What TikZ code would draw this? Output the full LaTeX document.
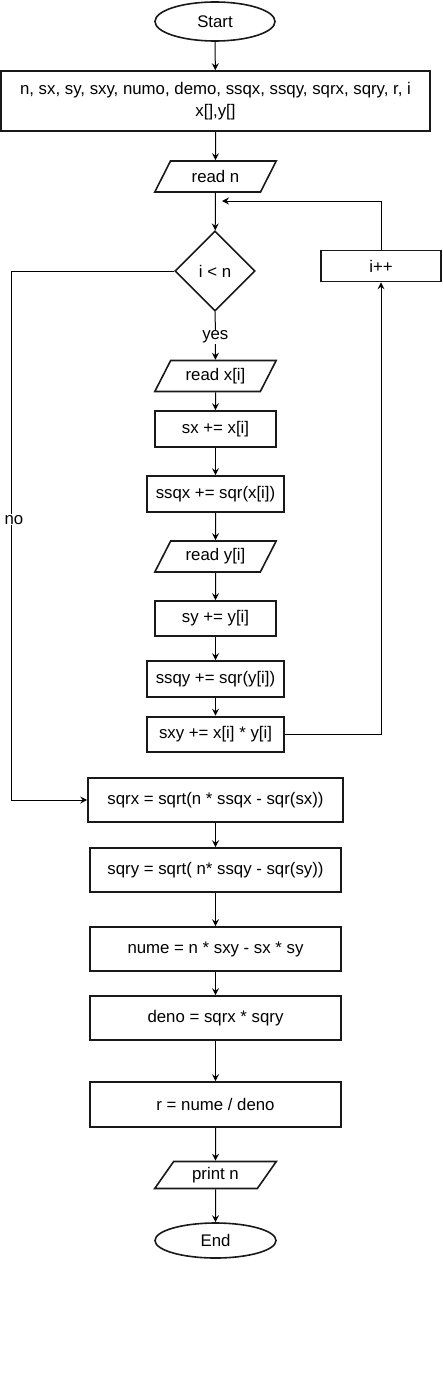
\documentclass[tikz,border=0pt]{standalone}
\usepackage{fontspec}
\setmainfont{Liberation Sans}
\usetikzlibrary{shapes.geometric,arrows.meta}
\begin{document}
\begin{tikzpicture}[x=1pt,y=-1pt,
  every node/.style={font=\fontsize{16.8}{22}\selectfont, inner sep=0pt, align=center},
  box/.style={draw=black!90, line width=1.6pt, rectangle, fill=white},
  term/.style={draw=black!90, line width=1.6pt, ellipse, fill=white},
  io/.style={draw=black!90, line width=1.6pt, trapezium, trapezium left angle=56, trapezium right angle=124, trapezium stretches=true, minimum width=122, fill=white},
  decision/.style={draw=black!90, line width=1.6pt, diamond, minimum width=80, minimum height=80, aspect=1, fill=white},
  conn/.style={draw=black, line width=1pt, -{Stealth[length=7pt,width=7pt,inset=2.5pt]}},
  lbl/.style={fill=white, inner sep=1pt}
]
\useasboundingbox (0,0) rectangle (442,1389);

\node[term, minimum width=120, minimum height=39] (start) at (215,21.5) {Start};
\node[box, minimum width=429, minimum height=60] (decl) at (215.5,101) {n, sx, sy, sxy, numo, demo, ssqx, ssqy, sqrx, sqry, r, i\\x[],y[]};
\node[io, minimum height=31] (readn) at (215.5,176.5) {read n};
\node[decision] (cond) at (215,271) {i \textless{} n};
\node[box, minimum width=120, minimum height=31] (inc) at (381,266) {i++};
\node[io, minimum height=31] (readx) at (215.5,376) {read x[i]};
\node[box, minimum width=121, minimum height=36] (sx) at (215.5,429) {sx += x[i]};
\node[box, minimum width=137, minimum height=36] (ssqx) at (215.5,494) {ssqx += sqr(x[i])};
\node[io, minimum height=31] (ready) at (215.5,556.5) {read y[i]};
\node[box, minimum width=121, minimum height=35] (sy) at (215.5,618.5) {sy += y[i]};
\node[box, minimum width=137, minimum height=36] (ssqy) at (215.5,679) {ssqy += sqr(y[i])};
\node[box, line width=2.6pt, minimum width=137, minimum height=35] (sxy) at (215.5,734.5) {sxy += x[i] * y[i]};
\node[box, minimum width=255, minimum height=44] (sqrx) at (215.5,800) {sqrx = sqrt(n * ssqx - sqr(sx))};
\node[box, minimum width=251, minimum height=44] (sqry) at (215.5,870) {sqry = sqrt( n* ssqy - sqr(sy))};
\node[box, minimum width=251, minimum height=44] (nume) at (215.5,949) {nume = n * sxy - sx * sy};
\node[box, minimum width=251, minimum height=44] (deno) at (215.5,1018) {deno = sqrx * sqry};
\node[box, minimum width=251, minimum height=45] (r) at (215.5,1104.5) {r = nume / deno};
\node[io, minimum height=27] (print) at (215.5,1175) {print n};
\node[term, minimum width=121, minimum height=35] (end) at (215.5,1240.5) {End};

\coordinate (loopin) at (222,201);
\coordinate (lefttop) at (11,271);
\coordinate (leftbot) at (11,800);

\draw[conn] (start) -- (decl);
\draw[conn] (decl) -- (readn);
\draw[conn] (readn) -- (cond);
\draw[conn] (cond) -- node[lbl, pos=0.53] (yes) {yes} (readx);
\draw[conn] (readx) -- (sx);
\draw[conn] (sx) -- (ssqx);
\draw[conn] (ssqx) -- (ready);
\draw[conn] (ready) -- (sy);
\draw[conn] (sy) -- (ssqy);
\draw[conn] (ssqy) -- (sxy);
\draw[conn] (sxy.east) -| (inc.south);
\draw[conn] (inc.north) |- (loopin);
\draw[conn] (cond.west) -- (lefttop) -- node[lbl, pos=0.47, xshift=3pt] (no) {no} (leftbot) -- (sqrx.west);
\draw[conn] (sqrx) -- (sqry);
\draw[conn] (sqry) -- (nume);
\draw[conn] (nume) -- (deno);
\draw[conn] (deno) -- (r);
\draw[conn] (r) -- (print);
\draw[conn] (print) -- (end);
\end{tikzpicture}
\end{document}
